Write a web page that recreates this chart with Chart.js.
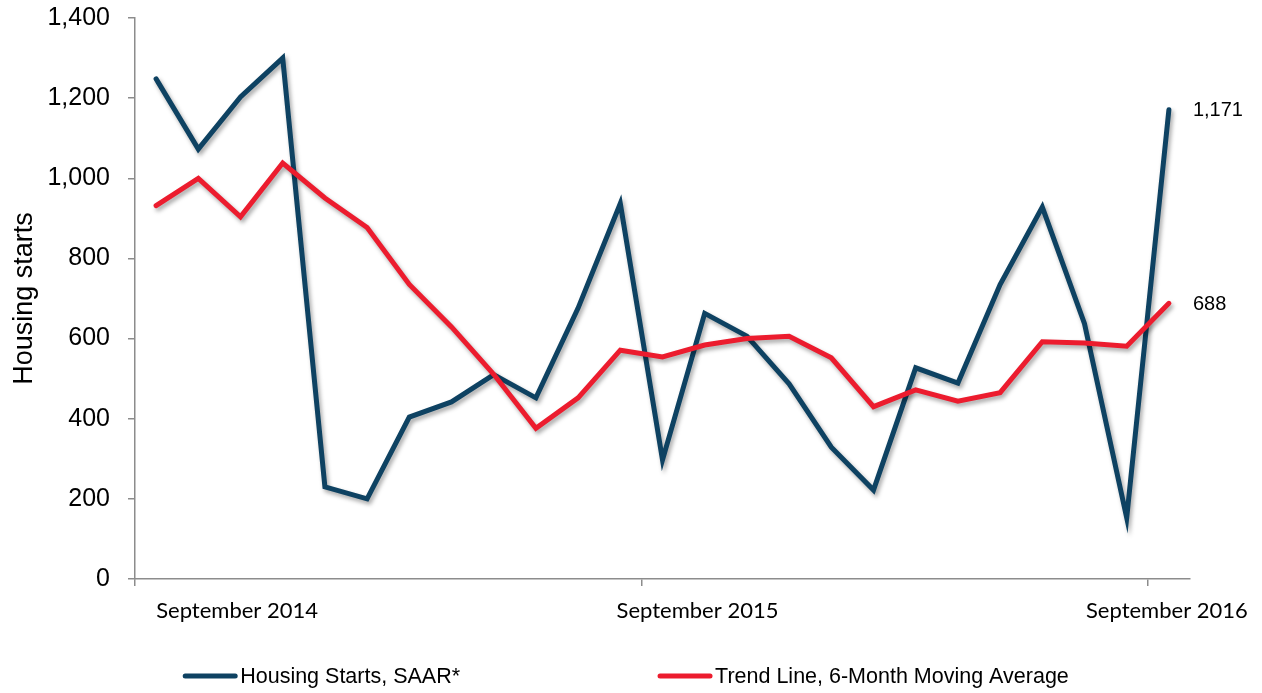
<!DOCTYPE html>
<html>
<head>
<meta charset="utf-8">
<script src="https://cdn.jsdelivr.net/npm/chart.js@4.4.1/dist/chart.umd.min.js"></script>
<style>
  html, body { margin: 0; padding: 0; background: #fff; }
  #wrap { width: 1262px; height: 693px; position: relative; }
</style>
</head>
<body>
<div id="wrap"><canvas id="startsChart"></canvas></div>
<script>
// Months Sep 2014 .. Sep 2016
const months = [
  'Sep 2014', 'Oct 2014', 'Nov 2014', 'Dec 2014', 'Jan 2015', 'Feb 2015', 'Mar 2015',
  'Apr 2015', 'May 2015', 'Jun 2015', 'Jul 2015', 'Aug 2015', 'Sep 2015', 'Oct 2015',
  'Nov 2015', 'Dec 2015', 'Jan 2016', 'Feb 2016', 'Mar 2016', 'Apr 2016', 'May 2016',
  'Jun 2016', 'Jul 2016', 'Aug 2016', 'Sep 2016'
];

// Housing starts, SAAR
const housingStarts = [1248, 1073, 1203, 1300, 230, 200, 404, 442, 510, 452, 676, 937,
  297, 663, 606, 487, 329, 222, 527, 489, 735, 928, 637, 153, 1171];

// 6-month moving average trend line
const trendLine = [932, 1000, 904, 1038, 951, 877, 735, 629, 511, 376, 452, 571,
  554, 584, 600, 606, 552, 430, 472, 444, 465, 592, 589, 581, 688];

const seriesNames = ['Housing Starts, SAAR*', 'Trend Line, 6-Month Moving Average'];
const xTickLabels = ['September 2014', 'September 2015', 'September 2016'];
const xTickIndex = [0, 12, 24];
const yTicks = [0, 200, 400, 600, 800, 1000, 1200, 1400];

const navy = '#0e4262';
const red = '#ec1c2e';
const axisGrey = '#8c8c8c';

// soft drop shadow under each line, like the original
const lineShadow = {
  id: 'lineShadow',
  beforeDatasetDraw(chart) {
    const c = chart.ctx;
    c.save();
    c.shadowColor = 'rgba(0,0,0,0.35)';
    c.shadowBlur = 4;
    c.shadowOffsetX = 2;
    c.shadowOffsetY = 3;
  },
  afterDatasetDraw(chart) {
    chart.ctx.restore();
  }
};

// end value labels, x labels and legend
const extras = {
  id: 'extras',
  afterDraw(chart) {
    const c = chart.ctx;
    const x = chart.scales.x;
    c.save();

    // value at the last point of each series
    c.font = '20px "Liberation Sans", Arial, sans-serif';
    c.fillStyle = '#000';
    c.textAlign = 'left';
    c.textBaseline = 'middle';
    chart.data.datasets.forEach((ds, i) => {
      const meta = chart.getDatasetMeta(i);
      const pt = meta.data[meta.data.length - 1];
      const v = ds.data[ds.data.length - 1];
      c.fillText(v.toLocaleString('en-US'), pt.x + 24, pt.y + 1);
    });

    // category labels under the axis
    c.font = '22px Lato, "Noto Sans", sans-serif';
    c.textAlign = 'center';
    c.textBaseline = 'alphabetic';
    const shift = [81, 35, -2];
    xTickLabels.forEach((lab, i) => {
      c.fillText(lab, x.getPixelForValue(xTickIndex[i]) + shift[i], 618);
    });

    // legend
    c.font = '21.5px "Liberation Sans", Arial, sans-serif';
    const lineW = 54, gapText = 3, gapItem = 198, ly = 676;
    const w0 = c.measureText(seriesNames[0]).width;
    const w1 = c.measureText(seriesNames[1]).width;
    const total = lineW + gapText + w0 + gapItem + lineW + gapText + w1;
    let lx = 626 - total / 2;
    c.textAlign = 'left';
    [navy, red].forEach((col, i) => {
      c.strokeStyle = col;
      c.lineWidth = 5;
      c.lineCap = 'round';
      c.beginPath();
      c.moveTo(lx + 2, ly);
      c.lineTo(lx + lineW - 2, ly);
      c.stroke();
      c.fillStyle = '#000';
      c.fillText(seriesNames[i], lx + lineW + gapText, 683);
      lx += lineW + gapText + (i === 0 ? w0 : w1) + gapItem;
    });
    c.restore();
  }
};

const ctx = document.getElementById('startsChart').getContext('2d');
const startsChart = new Chart(ctx, {
  type: 'line',
  data: {
    labels: months,
    datasets: [
      {
        label: seriesNames[1],
        data: trendLine,
        borderColor: red,
        backgroundColor: red,
        borderWidth: 5,
        pointRadius: 0,
        tension: 0,
        borderCapStyle: 'round',
        order: 0
      },
      {
        label: seriesNames[0],
        data: housingStarts,
        borderColor: navy,
        backgroundColor: navy,
        borderWidth: 5,
        pointRadius: 0,
        tension: 0,
        borderCapStyle: 'round',
        order: 1
      }
    ]
  },
  options: {
    responsive: true,
    maintainAspectRatio: false,
    animation: false,
    layout: { padding: { left: 0, right: 72, top: 18, bottom: 0 } },
    scales: {
      x: {
        type: 'category',
        offset: true,
        grid: {
          offset: true,
          drawOnChartArea: false,
          drawTicks: true,
          tickLength: 7,
          lineWidth: 1.5,
          tickColor: (c) => xTickIndex.includes(c.index) ? axisGrey : 'rgba(0,0,0,0)'
        },
        border: { color: axisGrey, width: 1.5 },
        ticks: { display: false },
        afterFit: (s) => { s.height = 114; s.paddingLeft = 0; s.paddingRight = 0; }
      },
      y: {
        min: 0,
        max: 1400,
        afterBuildTicks: (s) => { s.ticks = yTicks.map(v => ({ value: v })); },
        grid: {
          drawOnChartArea: false,
          drawTicks: true,
          tickLength: 7,
          lineWidth: 1.5,
          tickColor: axisGrey
        },
        border: { color: axisGrey, width: 1.5 },
        ticks: {
          padding: 18,
          color: '#000',
          font: { family: '"Liberation Sans", Arial, sans-serif', size: 25 },
          callback: (v) => v.toLocaleString('en-US')
        },
        title: {
          display: true,
          text: 'Housing starts',
          color: '#000',
          font: { family: '"Liberation Sans", Arial, sans-serif', size: 27 },
          padding: { top: 8, bottom: 0 }
        },
        afterFit: (s) => { s.width = 135; s.paddingTop = 0; s.paddingBottom = 0; }
      }
    },
    plugins: {
      legend: { display: false },
      tooltip: { enabled: false }
    }
  },
  plugins: [lineShadow, extras]
});
</script>
</body>
</html>
